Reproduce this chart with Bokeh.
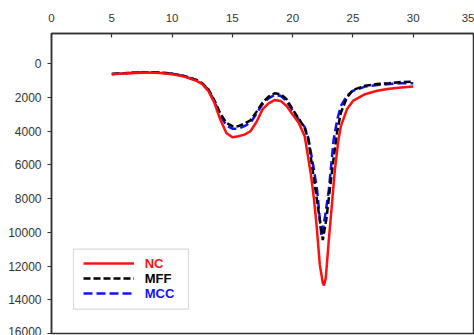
from bokeh.plotting import figure
from bokeh.models import Range1d, FixedTicker, Legend, LegendItem, BoxAnnotation
from bokeh.embed import file_html
from bokeh.resources import INLINE

# temperature-like x values (top axis) and signal values (reversed y axis)
x_tick_values = [0, 5, 10, 15, 20, 25, 30, 35]
y_tick_values = [0, 2000, 4000, 6000, 8000, 10000, 12000, 14000, 16000]

mff_x = [5, 6, 7, 8, 9, 10, 11, 12, 12.5, 13, 13.5, 14, 14.5, 15, 15.5, 16, 16.5, 17, 17.5,
         18, 18.5, 19, 19.5, 20, 20.5, 21, 21.3, 21.6, 21.9, 22.2, 22.5, 22.8, 23.08, 23.4,
         23.7, 24, 24.5, 25, 26, 27, 28, 29, 30]
mff_y = [600, 560, 520, 500, 520, 580, 720, 950, 1150, 1500, 2150, 2950, 3500, 3700, 3700,
         3550, 3350, 2850, 2300, 1950, 1750, 1800, 2100, 2700, 3250, 3800, 4500, 6000, 7480,
         9000, 10450, 9200, 7480, 5600, 4000, 2900, 2000, 1550, 1300, 1200, 1150, 1080, 1050]

mcc_x = [5, 6, 7, 8, 9, 10, 11, 12, 12.5, 13, 13.5, 14, 14.5, 15, 15.5, 16, 16.5, 17, 17.5,
         18, 18.5, 19, 19.5, 20, 20.5, 21, 21.3, 21.7, 22.03, 22.39, 22.7, 23.0, 23.4, 23.7,
         24, 24.5, 25, 26, 27, 28, 29, 30]
mcc_y = [600, 560, 520, 500, 520, 580, 730, 960, 1170, 1520, 2200, 3050, 3650, 3850, 3850,
         3700, 3500, 2950, 2400, 2050, 1850, 1900, 2200, 2800, 3300, 3750, 4400, 6000, 7480,
         10250, 9000, 7480, 4500, 3300, 2500, 1900, 1600, 1350, 1250, 1200, 1150, 1150]

nc_x = [5, 6, 7, 8, 9, 10, 11, 12, 12.5, 13, 13.5, 14, 14.5, 15, 15.5, 16, 16.5, 17, 17.5,
        18, 18.5, 19, 19.5, 20, 20.5, 21, 21.5, 21.75, 22, 22.25, 22.5, 22.6, 22.75, 23,
        23.25, 23.5, 23.8, 24, 24.5, 25, 26, 27, 28, 29, 30]
nc_y = [620, 580, 540, 520, 550, 620, 760, 1000, 1200, 1600, 2300, 3300, 4100, 4350, 4300,
        4200, 4000, 3450, 2700, 2350, 2150, 2200, 2500, 3000, 3500, 4300, 6500, 7900, 9700,
        11900, 13000, 13150, 12700, 10450, 8400, 6300, 4500, 3700, 2700, 2200, 1800, 1600,
        1480, 1400, 1350]

series_names = ["NC", "MFF", "MCC"]
series_colors = ["#ff1010", "#000000", "#1010ff"]

p = figure(width=474, height=335, output_backend="svg", toolbar_location=None,
           x_axis_location="above",
           x_range=Range1d(0, 35), y_range=Range1d(16000, -1800),
           min_border_left=51, min_border_right=1, min_border_top=33, min_border_bottom=2)

p.xgrid.visible = False
p.ygrid.visible = False
p.outline_line_color = "#333333"
p.outline_line_width = 1.5
p.background_fill_color = "white"
p.border_fill_color = "white"

for ax in (p.xaxis[0], p.yaxis[0]):
    ax.axis_line_color = "#333333"
    ax.axis_line_width = 1.5
    ax.major_tick_line_color = "#333333"
    ax.major_tick_line_width = 1.2
    ax.minor_tick_line_color = None
    ax.major_label_text_font = "Liberation Sans"
    ax.major_label_text_color = "#333333"

p.xaxis.major_label_text_font_size = "11.5px"
p.yaxis.major_label_text_font_size = "12px"

p.xaxis.ticker = FixedTicker(ticks=x_tick_values)
p.xaxis.major_tick_in = 4
p.xaxis.major_tick_out = 0
p.xaxis.major_label_standoff = 12

p.yaxis.ticker = FixedTicker(ticks=y_tick_values)
p.yaxis.major_tick_in = 0
p.yaxis.major_tick_out = 4
p.yaxis.major_label_standoff = 6

border = BoxAnnotation(left=22, right=137, bottom=24.3, top=84.3,
                       left_units="screen", right_units="screen",
                       top_units="screen", bottom_units="screen",
                       fill_alpha=0, line_color="#888888", line_width=1.2,
                       level="underlay")
p.add_layout(border)

r_mcc = p.line(mcc_x, mcc_y, line_color="#1010ff", line_width=2.5, line_dash="9 4")
r_mff = p.line(mff_x, mff_y, line_color="#000000", line_width=2.5, line_dash="7 3")
r_nc = p.line(nc_x, nc_y, line_color="#ff1010", line_width=2.5)

centers = [68.5, 53.5, 38.3]
for name, col, rend, cy in zip(series_names, series_colors, [r_nc, r_mff, r_mcc], centers):
    lg = Legend(items=[LegendItem(label=name, renderers=[rend])],
                location=(31.7, cy - 6), padding=0, margin=0, spacing=0,
                glyph_width=51, glyph_height=12, label_height=12,
                label_standoff=11, label_text_font="Liberation Sans",
                label_text_font_style="bold", label_text_font_size="13px",
                label_text_color=col, label_text_baseline="middle",
                border_line_alpha=0, background_fill_alpha=0)
    p.add_layout(lg)

open("out.html", "w").write(file_html(p, INLINE))
